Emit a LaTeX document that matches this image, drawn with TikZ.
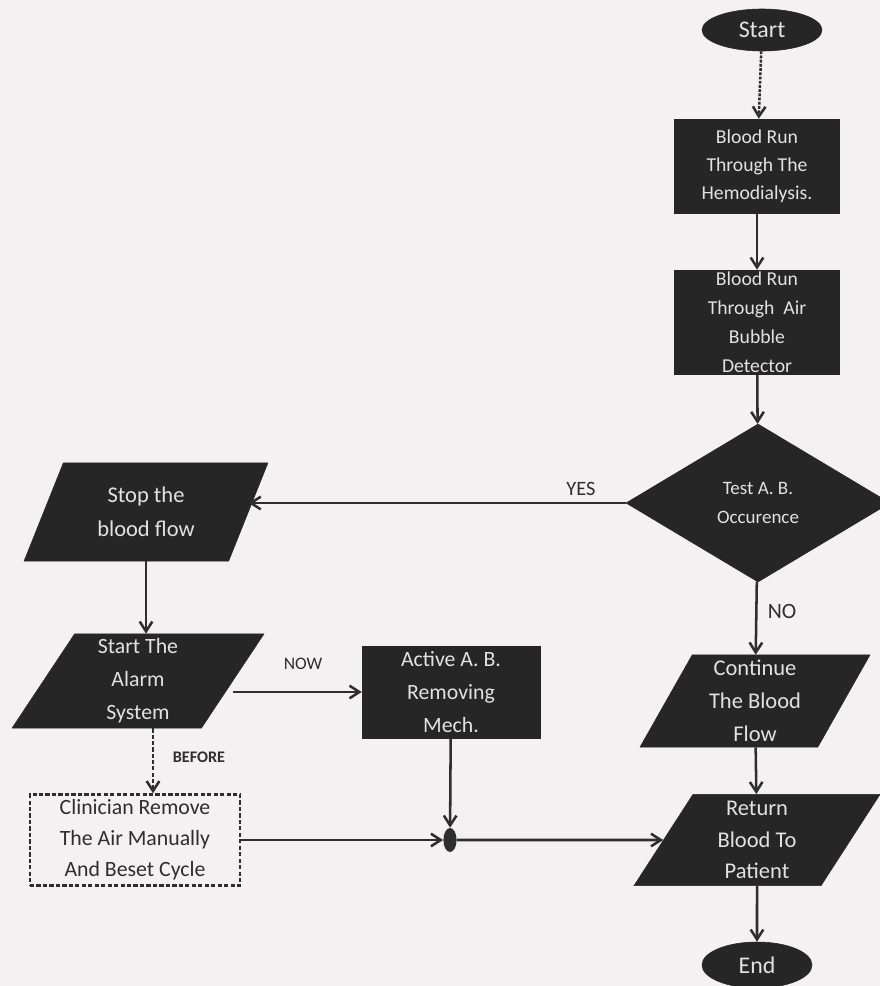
\documentclass[tikz,border=0pt]{standalone}
\usepackage{fontspec}
\setmainfont{Carlito}
\usetikzlibrary{shapes.geometric,arrows.meta}
\definecolor{boxfill}{HTML}{262626}
\definecolor{boxtext}{HTML}{E2E2E2}
\definecolor{linecol}{HTML}{2E2E2E}
\definecolor{paper}{HTML}{F3F1F2}

\begin{document}
\begin{tikzpicture}[x=0.025cm,y=-0.025cm,
    every node/.style={align=center,text=boxtext,font=\fontsize{15.5}{23.5}\selectfont},
    term/.style={ellipse,fill=boxfill,draw=boxfill,inner sep=0pt},
    proc/.style={rectangle,fill=boxfill,draw=boxfill,inner sep=0pt},
    io/.style={trapezium,trapezium left angle=65,trapezium right angle=115,
        trapezium stretches=true,fill=boxfill,draw=boxfill,inner sep=0pt},
    test/.style={diamond,fill=boxfill,draw=boxfill,inner sep=0pt},
    manual/.style={rectangle,draw=linecol,dash pattern=on 3pt off 1.6pt,line width=1.6pt,
        text=linecol,inner sep=0pt},
    lbl/.style={text=linecol},
    arr/.style={draw=linecol,line width=1.8pt,-{Straight Barb[length=7pt,width=9pt]}}]
    \fill[paper] (0,0) rectangle (880,986);
    \useasboundingbox (0,0) rectangle (880,986);

    \node[term,minimum width=3cm,minimum height=1.05cm,font=\fontsize{17}{20}\selectfont] (start) at (762,30) {Start};
    \node[proc,minimum width=4.125cm,minimum height=2.35cm,font=\fontsize{14}{20}\selectfont] (run1) at (757,166) {Blood Run\\Through The\\Hemodialysis.};
    \node[proc,minimum width=4.125cm,minimum height=2.6cm,font=\fontsize{14}{20.5}\selectfont] (run2) at (757,322) {Blood Run\\Through~~Air\\Bubble\\Detector};
    \node[test,minimum width=6.6cm,minimum height=3.95cm,font=\fontsize{13.5}{20}\selectfont] (occ) at (758,503) {Test A. B.\\Occurence};
    \node[io,minimum width=5.75cm,minimum height=2.3cm,font=\fontsize{16}{23.5}\selectfont] (cont) at (755,701) {Continue\\The Blood\\Flow};
    \node[io,minimum width=6.15cm,minimum height=2.28cm,font=\fontsize{16}{22.5}\selectfont] (ret) at (757,840) {Return\\Blood To\\Patient};
    \node[term,minimum width=2.75cm,minimum height=1.15cm,font=\fontsize{17}{20}\selectfont] (end) at (757,965) {End};

    \node[io,minimum width=6.1cm,minimum height=2.45cm,font=\fontsize{16}{24}\selectfont] (stop) at (146,512) {Stop the\\blood flow};
    \node[io,minimum width=6.3cm,minimum height=2.35cm] (alarm) at (138,681) {Start The\\Alarm\\System};
    \node[proc,minimum width=4.45cm,minimum height=2.3cm] (mech) at (451,692) {Active A. B.\\Removing\\Mech.};
    \node[manual,minimum width=5.25cm,minimum height=2.28cm,font=\fontsize{15.5}{22}\selectfont] (clin) at (135,840) {Clinician Remove\\The Air Manually\\And Beset Cycle};
    \node[ellipse,fill=linecol,minimum width=0.33cm,minimum height=0.6cm,inner sep=0pt] (join) at (450,840) {};

    % labels
    \node[lbl,font=\fontsize{14.5}{16}\selectfont] (yes) at (581,489) {YES};
    \node[lbl,font=\fontsize{15.5}{16}\selectfont] (no) at (782,611) {NO};
    \node[lbl,font=\fontsize{12.5}{14}\selectfont] (now) at (303,664) {NOW};
    \node[lbl,font=\bfseries\fontsize{11.5}{13}\selectfont] (before) at (199,757) {BEFORE};

    \draw[arr,dash pattern=on 2pt off 1pt] (start) -- (run1);
    \draw[arr] (run1) -- (run2);
    \draw[arr] (run2) -- (occ);
    \draw[arr] (occ.west) -- (stop.east |- occ.west);
    \draw[arr] (occ) -- (cont);
    \draw[arr] (cont) -- (ret);
    \draw[arr] (ret) -- (end);
    \draw[arr] (stop.south) -- (stop.south |- alarm.north);
    \draw[arr] (alarm.east |- mech.west) -- (mech.west);
    \draw[arr,dash pattern=on 3pt off 1.5pt] ([xshift=0.375cm]alarm.south) -- ([xshift=0.375cm]alarm.south |- clin.north);
    \draw[arr] (mech) -- (join);
    \draw[arr] (clin) -- (join);
    \draw[arr] (join) -- (ret.west);
\end{tikzpicture}
\end{document}
